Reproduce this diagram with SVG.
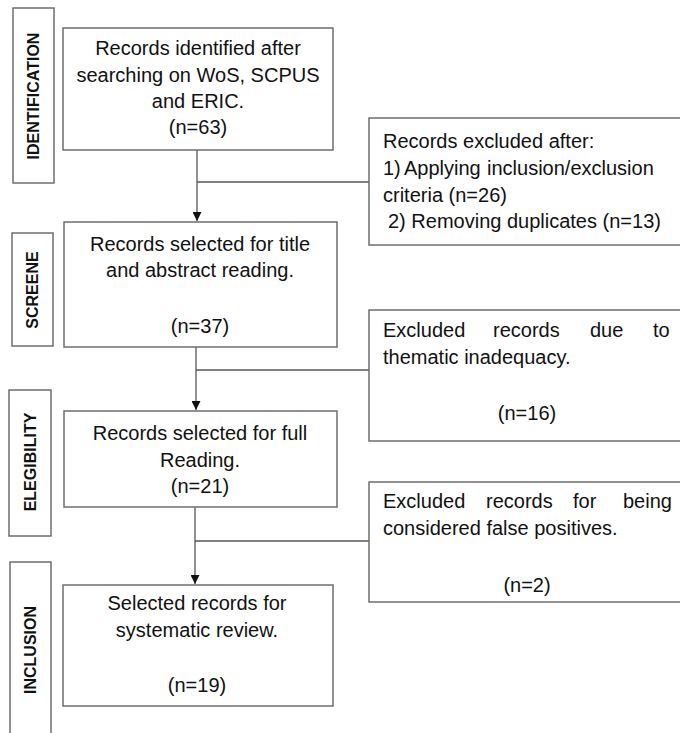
<svg xmlns="http://www.w3.org/2000/svg" width="680" height="733" viewBox="0 0 680 733">
<style>
.box{fill:#fff;stroke:#6e6e6e;stroke-width:1.5}
.t{font-family:"Liberation Sans",Arial,sans-serif;font-size:20px;fill:#111}
.c{text-anchor:middle}
.lbl{font-family:"Liberation Sans",Arial,sans-serif;font-size:16px;font-weight:bold;fill:#111;text-anchor:middle}
.ln{stroke:#555;stroke-width:1.3;fill:none}
</style>
<defs>
<marker id="arr" viewBox="0 0 10 10" refX="10" refY="5" markerWidth="9" markerHeight="9" markerUnits="userSpaceOnUse" orient="auto">
<path d="M0,0 L10,5 L0,10 z" fill="#111"/>
</marker>
</defs>
<rect width="680" height="733" fill="#fff"/>
<g id="stage-identification">
<rect class="box" x="13" y="8" width="41" height="175"/>
<text class="lbl" transform="translate(39,96) rotate(-90)">IDENTIFICATION</text>
</g>
<g id="stage-screene">
<rect class="box" x="12" y="233" width="41" height="113"/>
<text class="lbl" transform="translate(38,290) rotate(-90)">SCREENE</text>
</g>
<g id="stage-elegibility">
<rect class="box" x="9" y="390" width="42" height="146"/>
<text class="lbl" transform="translate(36,462) rotate(-90)">ELEGIBILITY</text>
</g>
<g id="stage-inclusion">
<rect class="box" x="10" y="562" width="41" height="200"/>
<text class="lbl" transform="translate(36,650) rotate(-90)">INCLUSION</text>
</g>
<g id="connectors">
<line class="ln" x1="197" y1="150" x2="197" y2="221" marker-end="url(#arr)"/>
<line class="ln" x1="197" y1="182" x2="369" y2="182"/>
<line class="ln" x1="196" y1="347" x2="196" y2="410" marker-end="url(#arr)"/>
<line class="ln" x1="196" y1="370" x2="369" y2="370"/>
<line class="ln" x1="195" y1="507" x2="195" y2="584" marker-end="url(#arr)"/>
<line class="ln" x1="195" y1="541" x2="369" y2="541"/>
</g>
<g id="n1">
<rect class="box" x="63" y="28" width="270" height="122"/>
<text class="t c" x="198" y="55">Records identified after</text>
<text class="t c" x="198" y="82">searching on WoS, SCPUS</text>
<text class="t c" x="198" y="108">and ERIC.</text>
<text class="t c" x="198" y="134">(n=63)</text>
</g>
<g id="n2">
<rect class="box" x="64" y="222" width="273" height="125"/>
<text class="t c" x="200" y="251">Records selected for title</text>
<text class="t c" x="200" y="277">and abstract reading.</text>
<text class="t c" x="200" y="333">(n=37)</text>
</g>
<g id="n3">
<rect class="box" x="64" y="411" width="273" height="96"/>
<text class="t c" x="200" y="440">Records selected for full</text>
<text class="t c" x="200" y="467">Reading.</text>
<text class="t c" x="200" y="493">(n=21)</text>
</g>
<g id="n4">
<rect class="box" x="63" y="585" width="270" height="121"/>
<text class="t c" x="197" y="610">Selected records for</text>
<text class="t c" x="197" y="637">systematic review.</text>
<text class="t c" x="197" y="692">(n=19)</text>
</g>
<g id="x1">
<rect class="box" x="369" y="118" width="320" height="127"/>
<text class="t" x="383" y="148">Records excluded after:</text>
<text class="t" y="175"><tspan x="383">1)</tspan><tspan x="404">Applying</tspan><tspan x="487">inclusion/exclusion</tspan></text>
<text class="t" x="383" y="202">criteria (n=26)</text>
<text class="t" x="388" y="228">2) Removing duplicates (n=13)</text>
</g>
<g id="x2">
<rect class="box" x="369" y="310" width="320" height="131"/>
<text class="t" y="337"><tspan x="383">Excluded</tspan><tspan x="493">records</tspan><tspan x="590">due</tspan><tspan x="653">to</tspan></text>
<text class="t" x="383" y="364">thematic inadequacy.</text>
<text class="t c" x="527" y="420">(n=16)</text>
</g>
<g id="x3">
<rect class="box" x="369" y="482" width="320" height="120"/>
<text class="t" y="508"><tspan x="383">Excluded</tspan><tspan x="486">records</tspan><tspan x="573">for</tspan><tspan x="623">being</tspan></text>
<text class="t" x="383" y="535">considered false positives.</text>
<text class="t c" x="527" y="592">(n=2)</text>
</g>
</svg>
